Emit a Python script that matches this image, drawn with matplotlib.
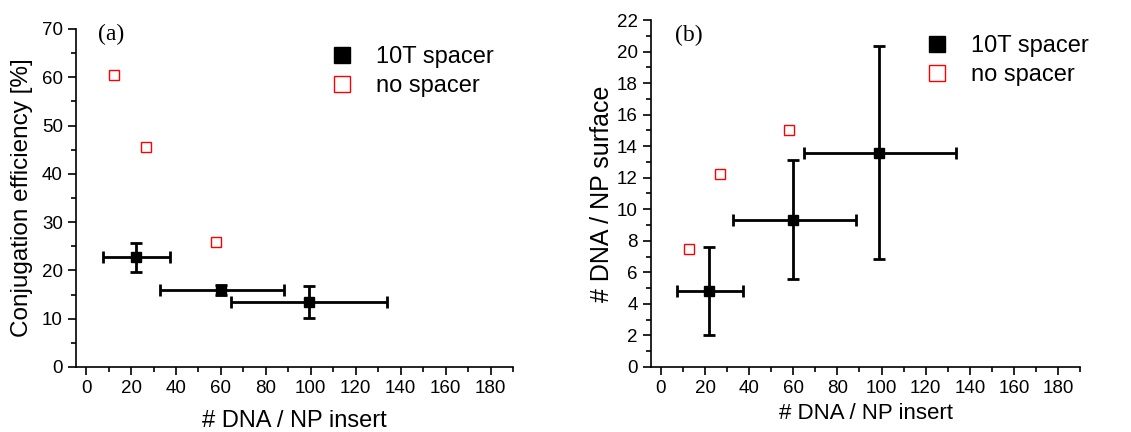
import matplotlib
matplotlib.use("Agg")
import matplotlib.pyplot as plt
from matplotlib.ticker import MultipleLocator

plt.rcParams['font.family'] = ['Liberation Sans', 'DejaVu Sans']

# === DATA ===
insert_10t = [22, 60, 99]
insert_lo = [7.5, 32.8, 64.7]
insert_hi = [37.2, 88.2, 133.8]

eff_10t = [22.7, 16.0, 13.5]
eff_lo = [19.6, 14.9, 10.2]
eff_hi = [25.6, 16.9, 16.7]

surf_10t = [4.8, 9.35, 13.55]
surf_lo = [2.05, 5.58, 6.83]
surf_hi = [7.6, 13.15, 20.35]

insert_nosp = [12.5, 26.8, 58.0]
eff_nosp = [60.4, 45.6, 25.8]
surf_nosp = [7.48, 12.25, 15.0]

xerr = [[x - lo for x, lo in zip(insert_10t, insert_lo)],
        [hi - x for x, hi in zip(insert_10t, insert_hi)]]


def yerr(vals, lo, hi):
    return [[v - l for v, l in zip(vals, lo)], [h - v for v, h in zip(vals, hi)]]


fig = plt.figure(figsize=(11.31, 4.32), dpi=100)
ax1 = fig.add_axes([0.0672, 0.1505, 0.3864, 0.7825])
ax2 = fig.add_axes([0.5756, 0.1505, 0.3794, 0.8032])


def style(ax, ymax, ymaj, ymin):
    for s in ['top', 'right']:
        ax.spines[s].set_visible(False)
    for s in ['left', 'bottom']:
        ax.spines[s].set_linewidth(1.2)
    ax.set_xlim(-4.5, 190)
    ax.set_ylim(0, ymax)
    ax.xaxis.set_major_locator(MultipleLocator(20))
    ax.xaxis.set_minor_locator(MultipleLocator(10))
    ax.yaxis.set_major_locator(MultipleLocator(ymaj))
    ax.yaxis.set_minor_locator(MultipleLocator(ymin))
    ax.tick_params(which='major', direction='out', length=6, width=1.2, labelsize=13.5)
    ax.tick_params(which='minor', direction='out', length=3.5, width=1.2)


for ax, yv, ylo, yhi, ynosp in [(ax1, eff_10t, eff_lo, eff_hi, eff_nosp),
                                (ax2, surf_10t, surf_lo, surf_hi, surf_nosp)]:
    ax.errorbar(insert_10t, yv, xerr=xerr, yerr=yerr(yv, ylo, yhi), fmt='s',
                color='black', ms=7, elinewidth=2, capsize=4, capthick=2,
                zorder=3)
    ax.plot(insert_nosp, ynosp, 's', mfc='none', mec='red', ms=7, mew=1,
            linestyle='none')

style(ax1, 70, 10, 5)
style(ax2, 22, 2, 1)

ax1.set_ylabel('Conjugation efficiency [%]', fontsize=17.5, labelpad=6)
ax1.set_xlabel('# DNA / NP insert', fontsize=17, labelpad=9)
ax2.set_ylabel('# DNA / NP surface', fontsize=18, labelpad=2)
ax2.set_xlabel('# DNA / NP insert', fontsize=16, labelpad=4)

ax1.text(0.05, 1.015, '(a)', transform=ax1.transAxes, fontsize=17,
         family='Liberation Serif', va='top')
ax2.text(0.057, 0.985, '(b)', transform=ax2.transAxes, fontsize=17,
         family='Liberation Serif', va='top')

for ax, loc in [(ax1, (0.528, 1.012)), (ax2, (0.583, 1.017))]:
    ax.legend([ax.lines[0], ax.lines[-1]], ['10T spacer', 'no spacer'],
              loc='upper left', bbox_to_anchor=loc, frameon=False,
              fontsize=17, markerscale=1.6, handlelength=1.2,
              handletextpad=0.85, labelspacing=0.3)

fig.savefig('out.png', dpi=100)
